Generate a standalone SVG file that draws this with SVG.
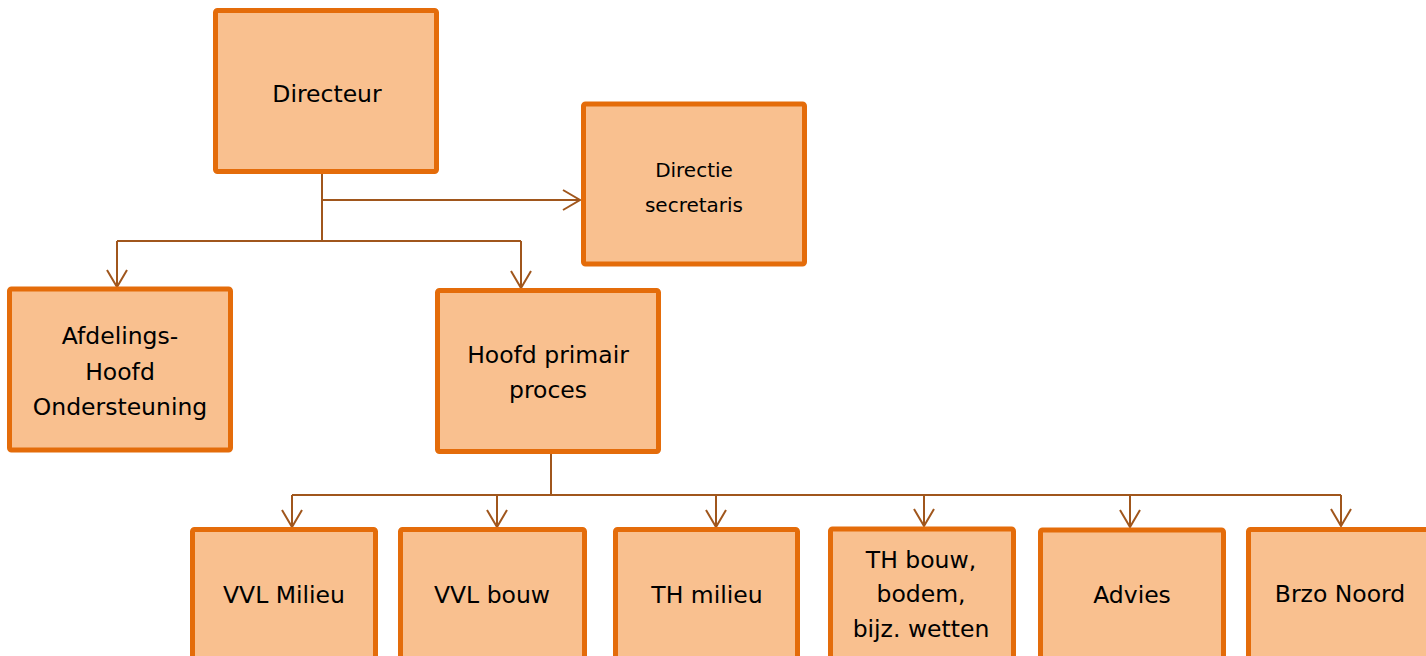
<svg xmlns="http://www.w3.org/2000/svg" width="1426" height="656" viewBox="0 0 1426 656">
<style>
.box{fill:#F9C08F;stroke:#E46C0A;stroke-width:5}
.t{font-family:"DejaVu Sans",Verdana,sans-serif;font-size:23.5px;fill:#000;text-anchor:middle}
.ts{font-size:20px}
.c{fill:none;stroke:#A0561C;stroke-width:2}
</style>
<defs>
<marker id="a" markerUnits="userSpaceOnUse" viewBox="-18 -11 20 22" refX="0" refY="0" markerWidth="20" markerHeight="22" orient="auto" overflow="visible">
<path d="M-17,-10 L0,0 L-17,10" fill="none" stroke="#A0561C" stroke-width="2"/>
</marker>
</defs>
<rect width="1426" height="656" fill="#fff"/>
<g id="connectors">
<path class="c" d="M322,174 V241"/>
<path class="c" d="M322,200 H580" marker-end="url(#a)"/>
<path class="c" d="M117,241 H521"/>
<path class="c" d="M117,241 V287" marker-end="url(#a)"/>
<path class="c" d="M521,241 V288" marker-end="url(#a)"/>
<path class="c" d="M551,454 V495"/>
<path class="c" d="M292,495 H1341"/>
<path class="c" d="M292,495 V527" marker-end="url(#a)"/>
<path class="c" d="M497,495 V527" marker-end="url(#a)"/>
<path class="c" d="M716,495 V527" marker-end="url(#a)"/>
<path class="c" d="M924,495 V526" marker-end="url(#a)"/>
<path class="c" d="M1130,495 V527" marker-end="url(#a)"/>
<path class="c" d="M1341,495 V526" marker-end="url(#a)"/>
</g>
<g id="directeur">
<rect class="box" x="215.5" y="10.5" width="221" height="161" rx="2"/>
<text class="t" x="327" y="102">Directeur</text>
</g>
<g id="directie-secretaris">
<rect class="box" x="583.5" y="104" width="221" height="160" rx="2"/>
<text class="t ts" x="694" y="177">Directie</text>
<text class="t ts" x="694" y="212">secretaris</text>
</g>
<g id="afdelingshoofd">
<rect class="box" x="9.5" y="289" width="221" height="161" rx="2"/>
<text class="t" x="120" y="344">Afdelings-</text>
<text class="t" x="120" y="380">Hoofd</text>
<text class="t" x="120" y="415">Ondersteuning</text>
</g>
<g id="hoofd-primair-proces">
<rect class="box" x="437.5" y="290.5" width="221" height="161" rx="2"/>
<text class="t" x="548" y="363">Hoofd primair</text>
<text class="t" x="548" y="398">proces</text>
</g>
<g id="vvl-milieu">
<rect class="box" x="192.5" y="529.5" width="183" height="180" rx="2"/>
<text class="t" x="284" y="603">VVL Milieu</text>
</g>
<g id="vvl-bouw">
<rect class="box" x="400.5" y="529.5" width="184" height="180" rx="2"/>
<text class="t" x="492" y="603">VVL bouw</text>
</g>
<g id="th-milieu">
<rect class="box" x="615.5" y="529.5" width="182" height="180" rx="2"/>
<text class="t" x="707" y="603">TH milieu</text>
</g>
<g id="th-bouw">
<rect class="box" x="830.5" y="529" width="183" height="180" rx="2"/>
<text class="t" x="921" y="568">TH bouw,</text>
<text class="t" x="921" y="602">bodem,</text>
<text class="t" x="921" y="637">bijz. wetten</text>
</g>
<g id="advies">
<rect class="box" x="1040.5" y="530" width="183" height="180" rx="2"/>
<text class="t" x="1132" y="603">Advies</text>
</g>
<g id="brzo-noord">
<rect class="box" x="1248.5" y="529.5" width="183" height="180" rx="2"/>
<text class="t" x="1340" y="602">Brzo Noord</text>
</g>
</svg>
